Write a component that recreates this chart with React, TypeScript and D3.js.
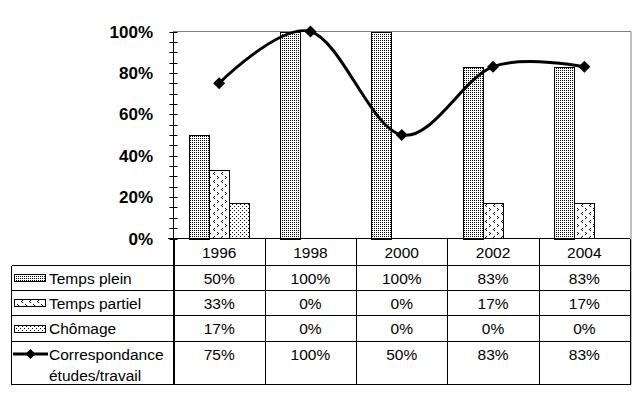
import React from "react";
import * as d3 from "d3";

const years = ["1996", "1998", "2000", "2002", "2004"];
const tempsPlein = [50, 100, 100, 83, 83];
const tempsPartiel = [33, 0, 0, 17, 17];
const chomage = [17, 0, 0, 0, 0];
const correspondance = [75, 100, 50, 83, 83];
const yTicks = [0, 20, 40, 60, 80, 100];

const series = [
  { name: "Temps plein", values: tempsPlein, pattern: "pPlein" },
  { name: "Temps partiel", values: tempsPartiel, pattern: "pPartiel" },
  { name: "Chômage", values: chomage, pattern: "pChomage" },
];

const W = 640;
const H = 400;
const plotLeft = 173.5;
const plotRight = 630;
const plotTop = 31.5;
const plotBottom = 238.5;
const legendLeft = 11.5;
const rowEdges = [238.5, 265.5, 290.5, 315.5, 341.5, 384.5];
const FONT = "'Liberation Sans', Arial, sans-serif";
const TFS = 15.5;

export default function App() {
  const x = d3.scaleBand<string>().domain(years).range([plotLeft, plotRight]).padding(0);
  const bw = x.bandwidth();
  const barW = bw / 4.5;
  const y = d3.scaleLinear().domain([0, 100]).range([plotBottom, plotTop]);
  const minorTicks = d3.range(0, 101, 5);

  const line = d3
    .line<number>()
    .x((_, i) => (x(years[i]) as number) + bw / 2)
    .y((v) => y(v))
    .curve(d3.curveCardinal.tension(0));

  const diamond = (cx: number, cy: number, r: number) =>
    `M${cx},${cy - r}L${cx + r},${cy}L${cx},${cy + r}L${cx - r},${cy}Z`;

  const colEdges = years.map((yr) => x(yr) as number).concat([plotRight]);

  const valueRows = [...series.map((s) => s.values), correspondance];

  return (
    <svg
      width={W}
      height={H}
      style={{ position: "absolute", left: 0, top: 0, background: "#fff" }}
      fontFamily={FONT}
    >
      <defs>
        <pattern id="pPlein" width={2} height={2} patternUnits="userSpaceOnUse">
          <rect width={2} height={2} fill="#fff" />
          <rect x={0} y={0} width={1} height={1} fill="#000" />
        </pattern>
        <pattern id="pPartiel" width={8} height={8} patternUnits="userSpaceOnUse">
          <rect width={8} height={8} fill="#fff" />
          <rect x={1} y={0} width={1} height={1} fill="#000" />
          <rect x={2} y={1} width={1} height={1} fill="#000" />
          <rect x={1} y={2} width={1} height={1} fill="#000" />
          <rect x={6} y={4} width={1} height={1} fill="#000" />
          <rect x={5} y={5} width={1} height={1} fill="#000" />
          <rect x={6} y={6} width={1} height={1} fill="#000" />
        </pattern>
        <pattern id="pChomage" width={4} height={4} patternUnits="userSpaceOnUse">
          <rect width={4} height={4} fill="#fff" />
          <rect x={0} y={0} width={1} height={1} fill="#000" />
          <rect x={2} y={2} width={1} height={1} fill="#000" />
        </pattern>
      </defs>
      <rect x={0} y={0} width={W} height={H} fill="#fff" />

      <line x1={plotLeft} x2={plotRight + 1} y1={plotTop} y2={plotTop} stroke="#808080" strokeWidth={1} />
      <line x1={plotRight + 1} x2={plotRight + 1} y1={plotTop} y2={rowEdges[5]} stroke="#808080" strokeWidth={1} />

      {series.map((s, si) =>
        s.values.map((v, i) =>
          v > 0 ? (
            <rect
              key={s.name + i}
              x={Math.round((x(years[i]) as number) + barW * 0.75 + si * barW) + 0.5}
              y={Math.round(y(v)) + 0.5}
              width={Math.round(barW)}
              height={Math.round(plotBottom - y(v))}
              fill={`url(#${s.pattern})`}
              stroke="#000"
              strokeWidth={1}
              shapeRendering="crispEdges"
            />
          ) : null
        )
      )}

      <line x1={plotLeft} x2={plotLeft} y1={plotTop} y2={rowEdges[5]} stroke="#000" />
      {minorTicks.map((t) => (
        <line
          key={"t" + t}
          x1={plotLeft - 4}
          x2={plotLeft + 4}
          y1={Math.round(y(t)) + 0.5}
          y2={Math.round(y(t)) + 0.5}
          stroke="#000"
        />
      ))}
      {yTicks.map((t) => (
        <text key={"l" + t} x={153} y={y(t)} dy="0.36em" textAnchor="end" fontSize={17} fontWeight="bold" fill="#000">
          {t}%
        </text>
      ))}

      <g stroke="#000" strokeWidth={1} shapeRendering="crispEdges">
        <line x1={plotLeft - 6} x2={plotRight} y1={rowEdges[0]} y2={rowEdges[0]} />
        {rowEdges.slice(1).map((ry, i) => (
          <line key={"r" + i} x1={legendLeft} x2={plotRight} y1={ry} y2={ry} />
        ))}
        <line x1={legendLeft} x2={legendLeft} y1={rowEdges[1]} y2={rowEdges[5]} />
        {colEdges.map((cx, i) => (
          <line key={"c" + i} x1={Math.round(cx) + 0.5} x2={Math.round(cx) + 0.5} y1={rowEdges[0]} y2={rowEdges[5]} />
        ))}
      </g>
      {years.map((yr) => (
        <text
          key={"h" + yr}
          x={(x(yr) as number) + bw / 2}
          y={(rowEdges[0] + rowEdges[1]) / 2}
          dy="0.36em"
          textAnchor="middle"
          fontSize={TFS}
          fill="#000"
        >
          {yr}
        </text>
      ))}
      {valueRows.map((vals, ri) =>
        vals.map((v, i) => (
          <text
            key={"v" + ri + "-" + i}
            x={(x(years[i]) as number) + bw / 2}
            y={ri < 3 ? (rowEdges[ri + 1] + rowEdges[ri + 2]) / 2 : rowEdges[4] + 12.5}
            dy="0.36em"
            textAnchor="middle"
            fontSize={TFS}
            fill="#000"
          >
            {v}%
          </text>
        ))
      )}

      {series.map((s, i) => {
        const cy = (rowEdges[i + 1] + rowEdges[i + 2]) / 2;
        return (
          <g key={"k" + i}>
            <rect
              x={14.5}
              y={Math.round(cy - 4) + 0.5}
              width={31}
              height={7}
              fill={`url(#${s.pattern})`}
              stroke="#000"
              shapeRendering="crispEdges"
            />
            <text x={49} y={cy} dy="0.36em" fontSize={TFS} fill="#000">
              {s.name}
            </text>
          </g>
        );
      })}
      <line x1={13} x2={48} y1={rowEdges[4] + 12.5} y2={rowEdges[4] + 12.5} stroke="#000" strokeWidth={3} />
      <path d={diamond(30.5, rowEdges[4] + 12.5, 5)} fill="#000" />
      <text x={49} y={rowEdges[4] + 12.5} dy="0.36em" fontSize={TFS} fill="#000">
        Correspondance
      </text>
      <text x={49} y={rowEdges[4] + 33.5} dy="0.36em" fontSize={TFS} fill="#000">
        études/travail
      </text>

      <path d={line(correspondance) || ""} fill="none" stroke="#000" strokeWidth={3} strokeLinejoin="round" />
      {correspondance.map((v, i) => (
        <path key={"m" + i} d={diamond((x(years[i]) as number) + bw / 2, y(v), 6)} fill="#000" />
      ))}
    </svg>
  );
}
